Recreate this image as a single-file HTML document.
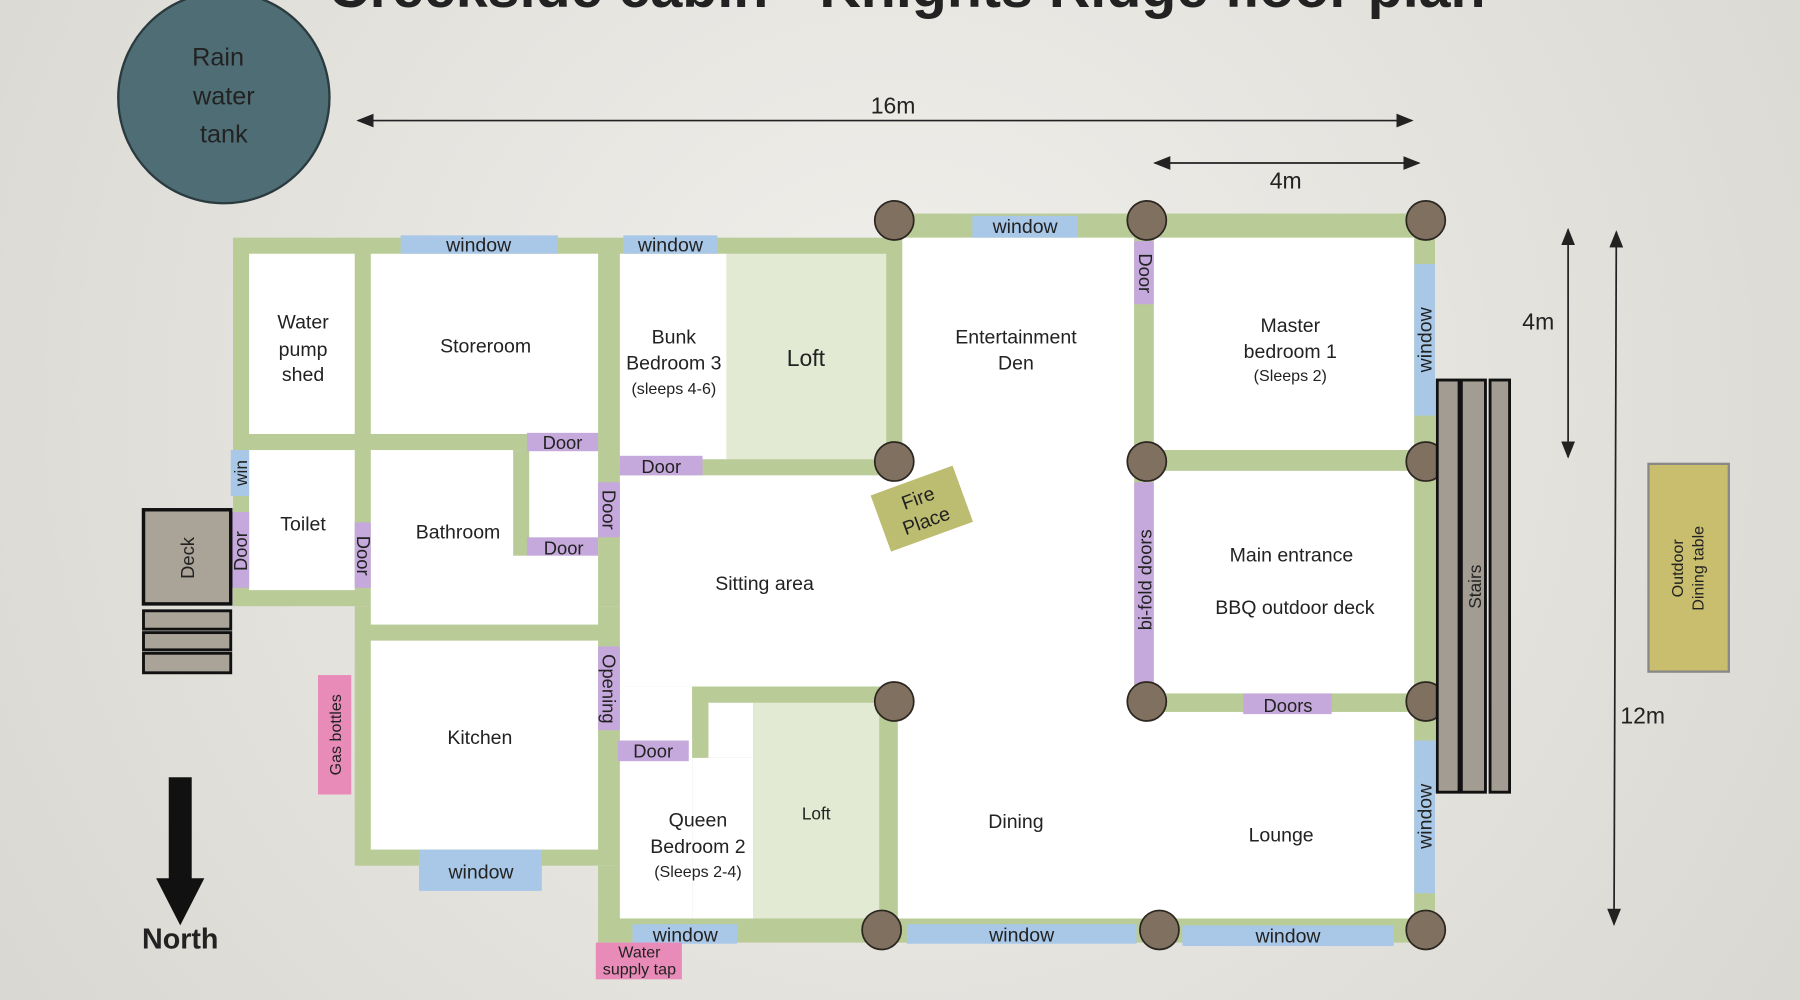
<!DOCTYPE html>
<html><head><meta charset="utf-8"><style>
html,body{margin:0;padding:0;background:#e5e3de;}
svg{display:block;}
text{font-family:"Liberation Sans",sans-serif;fill:#222;}
</style></head><body>
<svg width="1800" height="1000" viewBox="0 0 1568 871" preserveAspectRatio="none" xmlns="http://www.w3.org/2000/svg">
<defs>
<radialGradient id="bg" gradientUnits="userSpaceOnUse" cx="784" cy="350" r="1000"><stop offset="0" stop-color="#f1f0ec"/><stop offset="1" stop-color="#d8d6d0"/></radialGradient>
<marker id="ar" markerWidth="10" markerHeight="8" refX="9" refY="4" orient="auto-start-reverse"><path d="M0,0 L10,4 L0,8 z" fill="#222"/></marker>
</defs>
<rect width="1568" height="871" fill="url(#bg)"/>
<text x="790" y="6" font-size="50" font-weight="bold" text-anchor="middle" fill="#111">Creekside cabin - Knights Ridge floor plan</text>

<circle cx="195" cy="85" r="92" fill="#4e6d75" stroke="#2a3a3e" stroke-width="2"/>
<text x="190" y="57" font-size="22" text-anchor="middle">Rain</text>
<text x="195" y="91" font-size="22" text-anchor="middle">water</text>
<text x="195" y="124" font-size="22" text-anchor="middle">tank</text>

<g stroke="#222" stroke-width="1.5" fill="none">
<line x1="312" y1="105" x2="1230" y2="105" marker-start="url(#ar)" marker-end="url(#ar)"/>
<line x1="1006" y1="142" x2="1236" y2="142" marker-start="url(#ar)" marker-end="url(#ar)"/>
<line x1="1366" y1="200" x2="1366" y2="398" marker-start="url(#ar)" marker-end="url(#ar)"/>
<line x1="1408" y1="202" x2="1406" y2="805" marker-start="url(#ar)" marker-end="url(#ar)"/>
</g>
<text x="778" y="99" font-size="20" text-anchor="middle">16m</text>
<text x="1120" y="164" font-size="20" text-anchor="middle">4m</text>
<text x="1340" y="287" font-size="20" text-anchor="middle">4m</text>
<text x="1431" y="630" font-size="20" text-anchor="middle">12m</text>

<g fill="#b9cc98">
<rect x="203" y="207" width="583" height="321"/>
<rect x="309" y="528" width="477" height="226"/>
<rect x="521" y="754" width="265" height="67"/>
<rect x="779" y="186" width="471" height="635"/>
</g>
<g fill="#fff">
<rect x="217" y="221" width="92" height="157"/>
<rect x="323" y="221" width="198" height="157"/>
<rect x="217" y="392" width="92" height="122"/>
<rect x="323" y="392" width="198" height="152"/>
<rect x="323" y="558" width="198" height="182"/>
<rect x="540" y="221" width="93" height="179"/>
<rect x="786" y="207" width="202" height="600"/>
<rect x="540" y="414" width="460" height="184"/>
<rect x="540" y="598" width="63" height="202"/>
<rect x="603" y="660" width="53" height="140"/>
<rect x="782" y="598" width="230" height="202"/>
<rect x="1005" y="207" width="227" height="185"/>
<rect x="1005" y="410" width="227" height="194"/>
<rect x="1000" y="620" width="232" height="187"/>
<rect x="617" y="612" width="39" height="48"/>
</g>
<g fill="#e2ead3">
<rect x="633" y="221" width="139" height="179"/>
<rect x="656" y="612" width="110" height="190"/>
</g>
<g fill="#b9cc98">
<rect x="603" y="598" width="14" height="62"/>
<rect x="603" y="598" width="176" height="14"/>
<rect x="766" y="598" width="16" height="212"/>
<rect x="988" y="192" width="17" height="420"/>
<rect x="1000" y="392" width="242" height="18"/>
<rect x="1000" y="604" width="242" height="16"/>
<rect x="447" y="392" width="14" height="92"/>
<rect x="521" y="800" width="721" height="20"/>
<rect x="1232" y="192" width="18" height="620"/>
</g>

<g fill="#a9c8e8">
<rect x="349" y="205" width="137" height="16"/>
<rect x="543" y="205" width="82" height="16"/>
<rect x="847" y="188" width="92" height="19"/>
<rect x="1232" y="230" width="18" height="132"/>
<rect x="1232" y="645" width="18" height="133"/>
<rect x="551" y="805" width="91" height="17"/>
<rect x="790" y="805" width="200" height="17"/>
<rect x="1030" y="806" width="184" height="18"/>
<rect x="365" y="740" width="107" height="36"/>
<rect x="201" y="392" width="16" height="40"/>
</g>
<g font-size="17" text-anchor="middle">
<text x="417" y="219">window</text>
<text x="584" y="219">window</text>
<text x="893" y="203">window</text>
<text x="597" y="820">window</text>
<text x="890" y="820">window</text>
<text x="1122" y="821">window</text>
<text x="419" y="765">window</text>
<text transform="translate(1247,296) rotate(-90)">window</text>
<text transform="translate(1247,711) rotate(-90)">window</text>
<text transform="translate(215,412) rotate(-90)" font-size="15">win</text>
</g>

<g fill="#c6a9dc">
<rect x="201" y="446" width="16" height="66"/>
<rect x="309" y="455" width="14" height="57"/>
<rect x="459" y="377" width="62" height="16"/>
<rect x="459" y="468" width="62" height="16"/>
<rect x="521" y="420" width="19" height="48"/>
<rect x="540" y="397" width="72" height="17"/>
<rect x="988" y="210" width="17" height="55"/>
<rect x="988" y="420" width="17" height="176"/>
<rect x="1083" y="604" width="77" height="18"/>
<rect x="538" y="645" width="62" height="18"/>
<rect x="521" y="563" width="19" height="73"/>
</g>
<g font-size="16" text-anchor="middle">
<text transform="translate(215,480) rotate(-90)">Door</text>
<text transform="translate(311,484) rotate(90)">Door</text>
<text x="490" y="391">Door</text>
<text x="491" y="483">Door</text>
<text transform="translate(525,444) rotate(90)">Door</text>
<text x="576" y="412">Door</text>
<text transform="translate(992,238) rotate(90)">Door</text>
<text transform="translate(1003,505) rotate(-90)">bi-fold doors</text>
<text x="1122" y="620">Doors</text>
<text x="569" y="660">Door</text>
<text transform="translate(525,600) rotate(90)">Opening</text>
</g>

<rect x="277" y="588" width="29" height="104" fill="#e98bb8"/>
<text transform="translate(297,640) rotate(-90)" font-size="14" text-anchor="middle">Gas bottles</text>
<rect x="519" y="821" width="75" height="32" fill="#e98bb8"/>
<text x="557" y="834" font-size="14" text-anchor="middle">Water</text>
<text x="557" y="849" font-size="14" text-anchor="middle">supply tap</text>

<g transform="translate(803,443) rotate(-20)">
<rect x="-38" y="-26" width="76" height="52" fill="#bdbd72"/>
<text x="0" y="-4" font-size="17" text-anchor="middle">Fire</text>
<text x="0" y="17" font-size="17" text-anchor="middle">Place</text>
</g>

<g fill="#7f7060" stroke="#2c2620" stroke-width="1.5">
<circle cx="779" cy="192" r="17"/><circle cx="999" cy="192" r="17"/><circle cx="1242" cy="192" r="17"/>
<circle cx="779" cy="402" r="17"/><circle cx="999" cy="402" r="17"/><circle cx="1242" cy="402" r="17"/>
<circle cx="779" cy="611" r="17"/><circle cx="999" cy="611" r="17"/><circle cx="1242" cy="611" r="17"/>
<circle cx="768" cy="810" r="17"/><circle cx="1010" cy="810" r="17"/><circle cx="1242" cy="810" r="17"/>
</g>

<g font-size="17" text-anchor="middle">
<text x="264" y="286">Water</text><text x="264" y="310">pump</text><text x="264" y="332">shed</text>
<text x="423" y="307">Storeroom</text>
<text x="264" y="462">Toilet</text>
<text x="399" y="469">Bathroom</text>
<text x="418" y="648">Kitchen</text>
<text x="587" y="299">Bunk</text><text x="587" y="322">Bedroom 3</text>
<text x="587" y="343" font-size="14">(sleeps 4-6)</text>
<text x="702" y="319" font-size="20">Loft</text>
<text x="885" y="299">Entertainment</text><text x="885" y="322">Den</text>
<text x="1124" y="289">Master</text><text x="1124" y="312">bedroom 1</text>
<text x="1124" y="332" font-size="14">(Sleeps 2)</text>
<text x="1125" y="489">Main entrance</text>
<text x="1128" y="535">BBQ outdoor deck</text>
<text x="666" y="514">Sitting area</text>
<text x="608" y="720">Queen</text><text x="608" y="743">Bedroom 2</text>
<text x="608" y="764" font-size="14">(Sleeps 2-4)</text>
<text x="711" y="714" font-size="15">Loft</text>
<text x="885" y="721">Dining</text>
<text x="1116" y="733">Lounge</text>
</g>

<rect x="125" y="444" width="76" height="82" fill="#a9a398" stroke="#111" stroke-width="3"/>
<text transform="translate(169,486) rotate(-90)" font-size="16" text-anchor="middle">Deck</text>
<g fill="#a9a398" stroke="#111" stroke-width="2.5">
<rect x="125" y="532" width="76" height="16"/>
<rect x="125" y="551" width="76" height="15"/>
<rect x="125" y="569" width="76" height="17"/>
</g>

<g fill="#a29c92" stroke="#111" stroke-width="2.5">
<rect x="1252" y="331" width="19" height="359"/>
<rect x="1273" y="331" width="21" height="359"/>
<rect x="1298" y="331" width="17" height="359"/>
</g>
<text transform="translate(1290,511) rotate(-90)" font-size="15" text-anchor="middle">Stairs</text>

<rect x="1436" y="404" width="70" height="181" fill="#c9bd6e" stroke="#888" stroke-width="2"/>
<text transform="translate(1466,495) rotate(-90)" font-size="14" text-anchor="middle">Outdoor</text>
<text transform="translate(1484,495) rotate(-90)" font-size="14" text-anchor="middle">Dining table</text>

<rect x="147" y="677" width="20" height="90" fill="#111"/>
<polygon points="136,765 178,765 157,806" fill="#111"/>
<text x="157" y="826" font-size="25" font-weight="bold" text-anchor="middle" fill="#111">North</text>
</svg>
</body></html>
